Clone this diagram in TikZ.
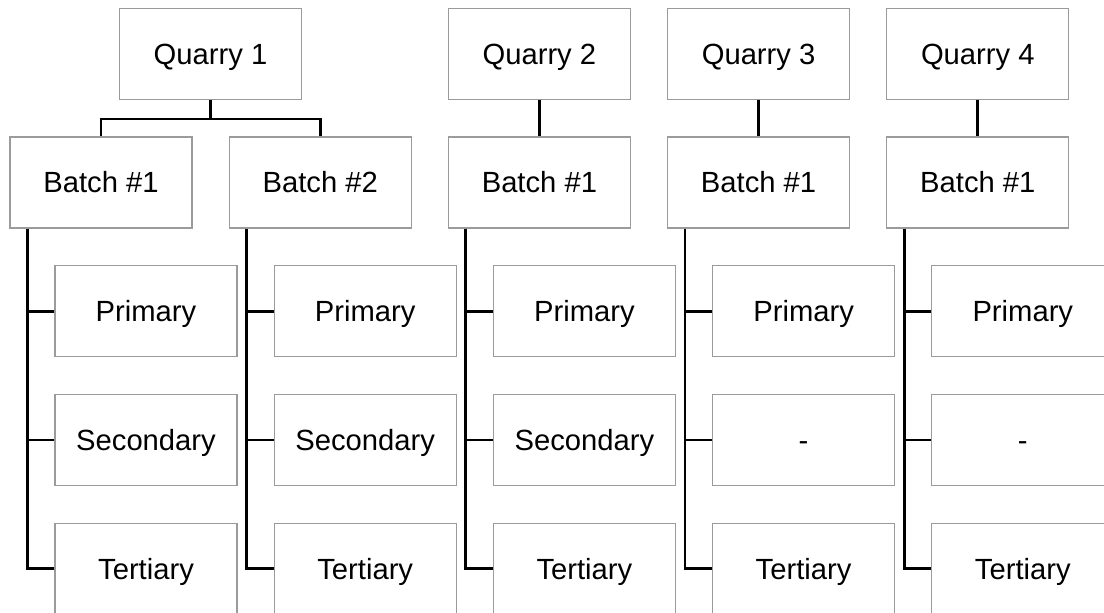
\documentclass[tikz,border=0pt]{standalone}
\usepackage{fontspec}
\setmainfont{Liberation Sans}
\usetikzlibrary{positioning}
\definecolor{boxgray}{RGB}{155,155,155}
\newcommand{\boxfont}{\fontsize{14.6pt}{17.5pt}\selectfont}

\begin{document}
\begin{tikzpicture}[
  box/.style={rectangle, draw=boxgray, line width=0.55pt, minimum width=91pt, minimum height=45.5pt, inner sep=0pt, text height=10.45pt, text depth=0pt, font=\boxfont},
  link/.style={draw, line width=1.4pt},
  node distance=64.4pt
]
\clip (0,0) rectangle (552pt,-306.5pt);

% Batches
\node[box] (b1) at (50.5pt,-91.25pt) {Batch \#1};
\node[box, right of=b1, node distance=109.6pt] (b2) {Batch \#2};
\node[box, right of=b2, node distance=109.6pt] (b3) {Batch \#1};
\node[box, right of=b3, node distance=109.6pt] (b4) {Batch \#1};
\node[box, right of=b4, node distance=109.6pt] (b5) {Batch \#1};

% Quarries
\node[box] (q1) at (105.25pt,-27pt) {Quarry 1};
\node[box, above of=b3] (q2) {Quarry 2};
\node[box, above of=b4] (q3) {Quarry 3};
\node[box, above of=b5] (q4) {Quarry 4};

% Stages, batch 1
\node[box, below of=b1, xshift=22.5pt] (p1) {Primary};
\node[box, below of=p1] (s1) {Secondary};
\node[box, below of=s1] (t1) {Tertiary};

% Stages, batch 2
\node[box, below of=b2, xshift=22.5pt] (p2) {Primary};
\node[box, below of=p2] (s2) {Secondary};
\node[box, below of=s2] (t2) {Tertiary};

% Stages, batch 3
\node[box, below of=b3, xshift=22.5pt] (p3) {Primary};
\node[box, below of=p3] (s3) {Secondary};
\node[box, below of=s3] (t3) {Tertiary};

% Stages, batch 4
\node[box, below of=b4, xshift=22.5pt] (p4) {Primary};
\node[box, below of=p4] (s4) {-};
\node[box, below of=s4] (t4) {Tertiary};

% Stages, batch 5
\node[box, below of=b5, xshift=22.5pt] (p5) {Primary};
\node[box, below of=p5] (s5) {-};
\node[box, below of=s5] (t5) {Tertiary};

% Quarry to batch
\draw[link] (q1.south) -- ++(0,-9.5pt) -| (b1.north);
\draw[link] (q1.south) -- ++(0,-9.5pt) -| (b2.north);
\draw[link] (q2) -- (b3);
\draw[link] (q3) -- (b4);
\draw[link] (q4) -- (b5);

% Batch to stages
\draw[link] ([xshift=9pt]b1.south west) |- (t1.west);
\draw[link] ([xshift=9pt]b1.south west |- p1.west) -- (p1.west);
\draw[link] ([xshift=9pt]b1.south west |- s1.west) -- (s1.west);

\draw[link] ([xshift=9pt]b2.south west) |- (t2.west);
\draw[link] ([xshift=9pt]b2.south west |- p2.west) -- (p2.west);
\draw[link] ([xshift=9pt]b2.south west |- s2.west) -- (s2.west);

\draw[link] ([xshift=9pt]b3.south west) |- (t3.west);
\draw[link] ([xshift=9pt]b3.south west |- p3.west) -- (p3.west);
\draw[link] ([xshift=9pt]b3.south west |- s3.west) -- (s3.west);

\draw[link] ([xshift=9pt]b4.south west) |- (t4.west);
\draw[link] ([xshift=9pt]b4.south west |- p4.west) -- (p4.west);
\draw[link] ([xshift=9pt]b4.south west |- s4.west) -- (s4.west);

\draw[link] ([xshift=9pt]b5.south west) |- (t5.west);
\draw[link] ([xshift=9pt]b5.south west |- p5.west) -- (p5.west);
\draw[link] ([xshift=9pt]b5.south west |- s5.west) -- (s5.west);
\end{tikzpicture}
\end{document}
